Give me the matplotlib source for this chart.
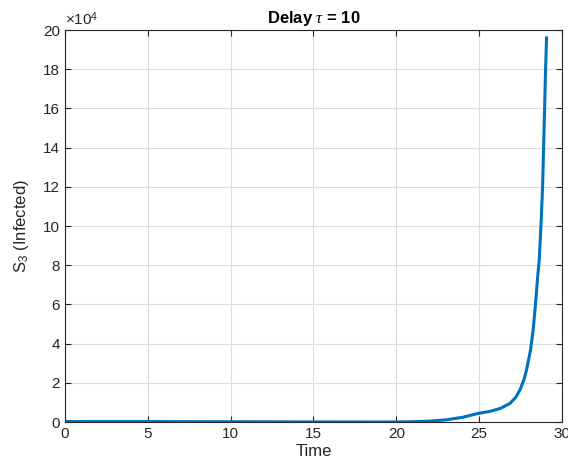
import matplotlib
matplotlib.use("Agg")
import matplotlib.pyplot as plt
from matplotlib.ticker import FuncFormatter, MultipleLocator

plt.rcParams['font.family'] = ['Liberation Sans', 'DejaVu Sans']
plt.rcParams['mathtext.fontset'] = 'custom'
plt.rcParams['mathtext.rm'] = 'Liberation Sans'
plt.rcParams['mathtext.it'] = 'Liberation Serif:italic'

time = [0, 5, 10, 15, 19, 20, 21, 22, 23, 24, 25, 25.65, 26.3, 26.86, 27.2,
        27.46, 27.7, 27.86, 28.1, 28.26, 28.4, 28.53, 28.63, 28.73, 28.83,
        28.89, 28.95, 29.01, 29.07]
infected = [250, 220, 150, 60, 20, 40, 150, 450, 1100, 2400, 4500, 5400,
            7000, 9500, 12500, 16300, 21500, 26500, 36700, 47000, 60000,
            74000, 83000, 100000, 120000, 140000, 160000, 180000, 196000]

fig = plt.figure(figsize=(5.68, 4.70), dpi=100)
ax = fig.add_axes([0.1144, 0.1021, 0.875, 0.834])
ax.plot(time, infected, color='#0072BD', lw=2.2)
ax.set_xlim(0, 30)
ax.set_ylim(0, 200000)
ax.xaxis.set_major_locator(MultipleLocator(5))
ax.yaxis.set_major_locator(MultipleLocator(20000))
ax.yaxis.set_major_formatter(FuncFormatter(lambda v, p: f"{v/1e4:g}"))
ax.grid(True, color='#dcdcdc', lw=0.8)
ax.set_axisbelow(True)
ax.tick_params(direction='in', top=True, right=True, labelsize=11,
               colors='#262626', length=4, width=0.8)
for s in ax.spines.values():
    s.set_color('#262626')
    s.set_linewidth(0.8)
ax.set_xlabel('Time', fontsize=12, color='#262626', labelpad=2)
ax.set_ylabel('S$_3$ (Infected)', fontsize=12, color='#262626', labelpad=9)
ax.set_title(r'Delay $\tau$ = 10', fontsize=12, fontweight='bold', pad=5)
ax.text(0.0, 1.005, r'$\times$10$^4$', transform=ax.transAxes, fontsize=11,
        color='#262626', ha='left', va='bottom')
fig.savefig('out.png', dpi=100)
